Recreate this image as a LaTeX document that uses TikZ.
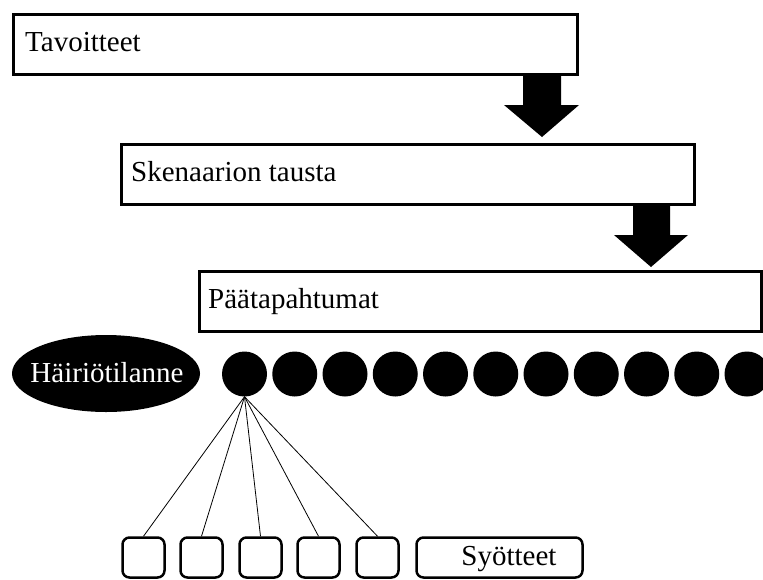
\documentclass[tikz,border=0pt]{standalone}
\usepackage{fontspec}
\setmainfont{Liberation Serif}
\begin{document}
\begin{tikzpicture}[x=1pt,y=-1pt,
  bigbox/.style={draw=black,line width=3pt,fill=white,rectangle,inner sep=0pt,anchor=north west},
  lbl/.style={font=\fontsize{29}{32}\selectfont,inner sep=0pt,anchor=base west},
  dot/.style={circle,fill=black,minimum size=45pt,inner sep=0pt},
  smallbox/.style={draw=black,line width=2.5pt,rounded corners=7pt,minimum width=42pt,minimum height=40pt,inner sep=0pt},
  blockarrow/.style={fill=black,draw=none},
  spoke/.style={draw=black,line width=0.8pt}]
\useasboundingbox (0,0) rectangle (763,579);
\begin{scope}
\clip (0,0) rectangle (763,579);
% main boxes
\node[bigbox,minimum width=564pt,minimum height=60pt] (b1) at (12,13) {};
\node[lbl] (b1l) at (25,51) {Tavoitteet};
\node[bigbox,minimum width=573pt,minimum height=60pt] (b2) at (120,143) {};
\node[lbl] (b2l) at (131,181) {Skenaarion tausta};
\node[bigbox,minimum width=562pt,minimum height=60pt] (b3) at (198,270) {};
\node[lbl] (b3l) at (208,308) {Päätapahtumat};
% block arrows
\fill[blockarrow] (523,75) -- (561,75) -- (561,105) -- (579,105) -- (542,137) -- (504,105) -- (523,105) -- cycle;
\fill[blockarrow] (633,205) -- (670,205) -- (670,235) -- (688,235) -- (651,267) -- (614,235) -- (633,235) -- cycle;
% ellipse
\fill[black] (106,373.5) ellipse [x radius=94, y radius=38.5];
\node[lbl,text=white,anchor=base] (h) at (107,382) {Häiriötilanne};
% dots
\foreach \i in {0,...,10} {
  \node[dot] (c\i) at (244.5+50.25*\i,374) {};
}
% small boxes
\node[smallbox] (s1) at (143.5,557.5) {};
\node[smallbox] (s2) at (201.5,557.5) {};
\node[smallbox] (s3) at (260.5,557.5) {};
\node[smallbox] (s4) at (318.5,557.5) {};
\node[smallbox] (s5) at (377.5,557.5) {};
\node[smallbox,minimum width=166pt] (s6) at (499.5,557.5) {};
\node[lbl,anchor=base] (s6l) at (509,565) {Syötteet};
\foreach \k in {1,...,5} {
  \draw[spoke] (c0.south) -- (s\k.north);
}
\end{scope}
\end{tikzpicture}
\end{document}
